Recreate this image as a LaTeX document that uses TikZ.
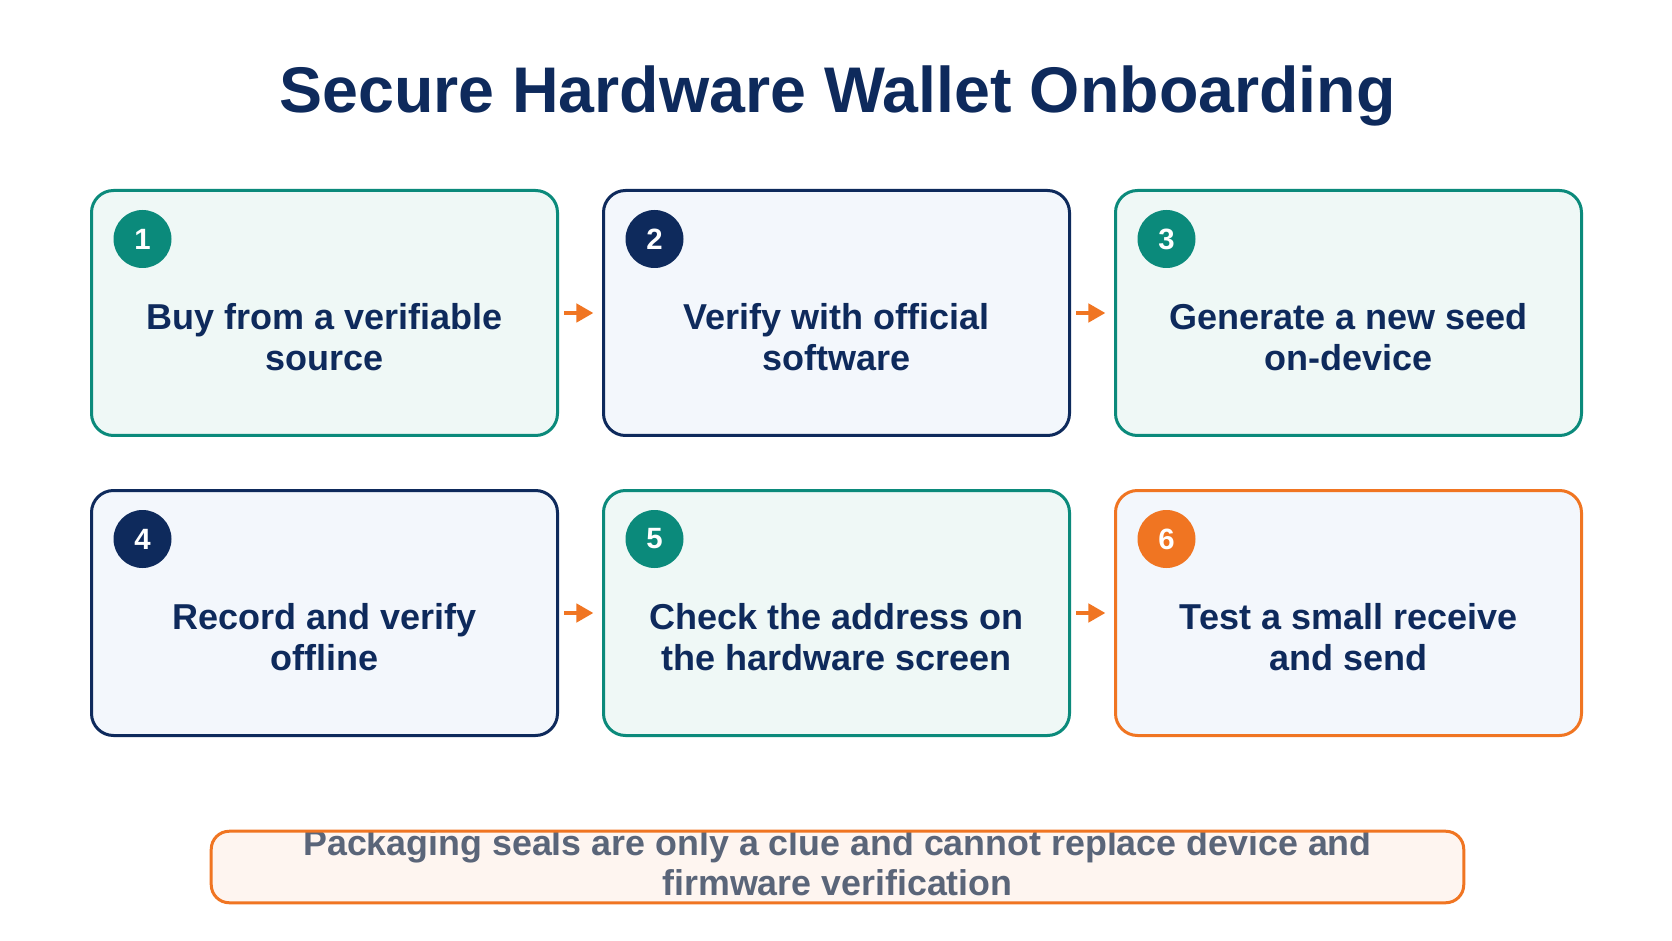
\documentclass[tikz,border=0pt]{standalone}
\usepackage{fontspec}
\setmainfont{Liberation Sans}
\usetikzlibrary{arrows.meta}
\definecolor{navyblue}{HTML}{0E2A5C}
\definecolor{tealgreen}{HTML}{0B8A7B}
\definecolor{signalorange}{HTML}{F07522}
\definecolor{tealwash}{HTML}{EFF8F6}
\definecolor{navywash}{HTML}{F3F7FC}
\definecolor{orangewash}{HTML}{FEF5F0}
\definecolor{slategray}{HTML}{5A6579}
\tikzset{
	card/.style={line width=2.25pt, rounded corners=16.5pt, minimum width=349.5pt, minimum height=183.75pt, inner sep=0pt},
	tealcard/.style={card, draw=tealgreen, fill=tealwash},
	navycard/.style={card, draw=navyblue, fill=navywash},
	orangecard/.style={card, draw=signalorange, fill=navywash},
	badge/.style={circle, minimum size=43.5pt, inner sep=0pt, text=white, font=\fontsize{22pt}{26pt}\selectfont\bfseries},
	cardtext/.style={align=center, text=navyblue, font=\fontsize{27pt}{30.75pt}\selectfont\bfseries},
	flow/.style={draw=signalorange, line width=3.4pt, -{Triangle[length=12.75pt,width=13.5pt]}, shorten <=3.75pt, shorten >=6.4pt},
	notebox/.style={fill=orangewash, rounded corners=13.5pt, minimum width=939pt, minimum height=53.25pt, inner sep=0pt},
	notetext/.style={align=center, text=slategray, font=\fontsize{26.85pt}{30pt}\selectfont\bfseries},
}

\begin{document}
\begin{tikzpicture}[x=0.75pt, y=-0.75pt]
	%%%%% START %%%%%
	\useasboundingbox (0,0) rectangle (1672,941);
	
	\node[font=\fontsize{48.4pt}{56pt}\selectfont\bfseries, text=navyblue, anchor=base] (title) at (837.5,113) {Secure Hardware Wallet Onboarding};
	
	% first row
	\node[tealcard] (buy) at (324.5,313) {};
	\node[badge, fill=tealgreen] (one) at (142.5,239) {1};
	\node[cardtext] (buytext) at (324.5,337.5) {Buy from a verifiable\\source};
	
	\node[navycard] (verify) at (836.5,313) {};
	\node[badge, fill=navyblue] (two) at (654.5,239) {2};
	\node[cardtext] (verifytext) at (836.5,337.5) {Verify with official\\software};
	
	\node[tealcard] (seed) at (1348.5,313) {};
	\node[badge, fill=tealgreen] (three) at (1166.5,239) {3};
	\node[cardtext] (seedtext) at (1348.5,337.5) {Generate a new seed\\on-device};
	
	% second row
	\node[navycard] (record) at (324.5,613) {};
	\node[badge, fill=navyblue] (four) at (142.5,539) {4};
	\node[cardtext] (recordtext) at (324.5,637.5) {Record and verify\\offline};
	
	\node[tealcard] (check) at (836.5,613) {};
	\node[badge, fill=tealgreen] (five) at (654.5,539) {5};
	\node[cardtext] (checktext) at (836.5,637.5) {Check the address on\\the hardware screen};
	
	\node[orangecard] (test) at (1348.5,613) {};
	\node[badge, fill=signalorange] (six) at (1166.5,539) {6};
	\node[cardtext] (testtext) at (1348.5,637.5) {Test a small receive\\and send};
	
	\draw[flow] (buy) -- (verify);
	\draw[flow] (verify) -- (seed);
	\draw[flow] (record) -- (check);
	\draw[flow] (check) -- (test);
	
	% note at the bottom, text cut by its frame
	\node[notebox] (seals) at (837.5,867) {};
	\begin{scope}
		\clip[rounded corners=13.5pt] (seals.south west) rectangle (seals.north east);
		\node[notetext] (sealstext) at (837.5,863) {Packaging seals are only a clue and cannot replace device and\\firmware verification};
	\end{scope}
	\draw[draw=signalorange, line width=2.25pt, rounded corners=13.5pt] (seals.south west) rectangle (seals.north east);
	
	%%%%% END %%%%%
\end{tikzpicture}
\end{document}
